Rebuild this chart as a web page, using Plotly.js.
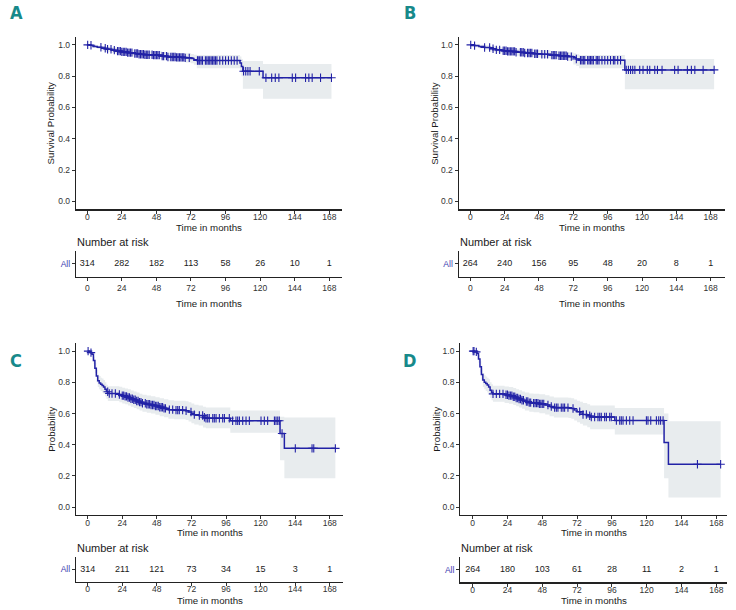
<!DOCTYPE html>
<html>
<head>
<meta charset="utf-8">
<script src="https://cdn.plot.ly/plotly-3.0.1.min.js"></script>
<style>html,body{margin:0;padding:0;background:#fff;}#chart{width:736px;height:610px;}</style>
</head>
<body>
<div id="chart"></div>
<script>
// ---------------- data ----------------
const xTicks = [0, 24, 48, 72, 96, 120, 144, 168];
const yTicks = [0, 0.2, 0.4, 0.6, 0.8, 1.0];
const yTickText = ["0.0", "0.2", "0.4", "0.6", "0.8", "1.0"];
const riskTimes = [0, 24, 48, 72, 96, 120, 144, 168];

const timeA = [0,2,4,7,10,13,17,20,24,28,32,36,40,46,52,56,62,68,72,74,76,106,107,108,122,169.5];
const survA = [1.0,0.997,0.99,0.985,0.978,0.972,0.966,0.96,0.955,0.95,0.945,0.94,0.937,0.934,0.928,0.922,0.92,0.917,0.912,0.905,0.90,0.884,0.862,0.831,0.79,0.79];
const lowA  = [1.0,0.99,0.98,0.973,0.964,0.956,0.948,0.941,0.935,0.929,0.923,0.917,0.913,0.909,0.902,0.895,0.892,0.888,0.882,0.873,0.85,0.83,0.80,0.72,0.655,0.655];
const upA   = [1.0,1.0,0.999,0.996,0.992,0.988,0.984,0.979,0.975,0.971,0.967,0.963,0.961,0.959,0.954,0.949,0.948,0.946,0.942,0.937,0.935,0.925,0.91,0.896,0.877,0.877];
const censA = [0.3,2.6,9.5,12.5,14.1,16.5,18.8,21,22,23,24,25,26,27,28,29,30,31,33,34,35,36,37,38,39,40,41,42,43,45,46,47,48,49,50,52,53,55,56,58,59,60,61,62,63,64,65,66,67,68,70.8,76.5,77,78,79,80,82,83,84,85,86,87,88,89,90,92,94,96,98,100,102,104,108.5,110,111.5,113,119.4,124,128,130.5,133,142.3,144.6,151.5,153.8,156.1,161.9,169.5];
const riskA = [314, 282, 182, 113, 58, 26, 10, 1];

const timeB = [0,3,6,10,14,18,22,26,32,38,44,50,56,62,68,72,74,76,108,170.4];
const survB = [1.0,0.995,0.99,0.983,0.975,0.968,0.962,0.958,0.953,0.948,0.943,0.94,0.934,0.93,0.925,0.918,0.91,0.902,0.84,0.84];
const lowB  = [1.0,0.985,0.978,0.968,0.958,0.949,0.942,0.937,0.931,0.925,0.919,0.915,0.908,0.903,0.897,0.875,0.865,0.85,0.717,0.717];
const upB   = [1.0,1.0,1.0,0.997,0.991,0.986,0.982,0.979,0.975,0.971,0.967,0.965,0.96,0.957,0.953,0.947,0.94,0.935,0.909,0.909];
const censB = [0.3,3.0,10.0,13.5,15.9,18.2,20.5,23,24,25,26,27,28,29,30,31,32,35,36,37,38,40,41,42,43,45,46,47,50,52,54,57,58,59,60,62,63,64,65,66,67,68,70.6,74.1,77,78,79,80,82,83,84,85,86,88,89,90,92,94,96,98,100,101,103,105,109,110.5,112,113.5,115,118.4,120.7,123.7,125.4,128.9,130.8,134,142.8,145.2,151.7,154.5,156.9,162.7,170.4];
const riskB = [264, 240, 156, 95, 48, 20, 8, 1];

const timeC = [0,1,2,3,4,5,6,7,8,9,10,11,12,13,14,22,24,26,28,30,32,34,36,38,41,44,47,50,53,56,60,68,70,72,74,77,80,82,99,133.5,136.5,171.9];
const survC = [1.0,0.997,0.99,0.98,0.94,0.89,0.84,0.81,0.795,0.787,0.779,0.77,0.755,0.74,0.728,0.722,0.715,0.71,0.703,0.695,0.688,0.68,0.673,0.666,0.66,0.655,0.648,0.64,0.633,0.625,0.622,0.618,0.61,0.6,0.593,0.587,0.576,0.57,0.554,0.472,0.377,0.377];
const lowC  = [1.0,0.99,0.98,0.965,0.915,0.86,0.80,0.77,0.755,0.745,0.735,0.725,0.71,0.695,0.68,0.672,0.665,0.66,0.652,0.643,0.636,0.627,0.62,0.612,0.605,0.6,0.592,0.583,0.576,0.567,0.563,0.558,0.549,0.538,0.53,0.523,0.51,0.505,0.477,0.30,0.186,0.186];
const upC   = [1.0,1.0,1.0,0.995,0.965,0.925,0.88,0.85,0.84,0.83,0.825,0.815,0.80,0.785,0.775,0.772,0.766,0.76,0.755,0.748,0.741,0.734,0.727,0.721,0.715,0.71,0.704,0.698,0.692,0.685,0.682,0.679,0.672,0.664,0.657,0.652,0.643,0.638,0.62,0.58,0.575,0.575];
const censC = [0.3,2.3,13.9,15.0,16.9,19.2,22.0,24,25,26,27,28,29,30,31,32,33,34,35,36,37,38,40,41,42,43,44,45,46,47,48,49,50,51,52,53,54,56.7,59,61.3,62.5,63.6,65.9,68.3,71.7,74.0,77.5,79.8,81,82.1,83.3,84.4,86.8,87.9,89.1,91.4,93.7,94.9,98.3,100.6,102.9,104.1,105.3,107.6,109.9,112.2,120.3,122.6,124.9,129.6,130.7,131.9,133.0,134.9,144.1,155.7,156.9,171.9];
const riskC = [314, 211, 121, 73, 34, 15, 3, 1];

const timeD = [0,1,3,4,5,6,7,8,9,10,11,12,13,14,22,25,28,30,32,34,36,39,42,46,50,53,56,66,68,70,72,74,76,79,81,98,132,135,171];
const survD = [1.0,0.995,0.985,0.95,0.9,0.85,0.815,0.8,0.792,0.783,0.77,0.75,0.735,0.726,0.72,0.715,0.708,0.7,0.693,0.685,0.677,0.67,0.667,0.662,0.655,0.645,0.638,0.635,0.632,0.622,0.612,0.603,0.594,0.586,0.578,0.555,0.415,0.275,0.275];
const lowD  = [1.0,0.985,0.97,0.925,0.865,0.81,0.77,0.755,0.745,0.735,0.72,0.70,0.685,0.675,0.668,0.662,0.655,0.646,0.638,0.63,0.62,0.612,0.608,0.602,0.594,0.583,0.575,0.571,0.566,0.555,0.544,0.534,0.523,0.512,0.5,0.465,0.186,0.062,0.062];
const upD   = [1.0,1.0,1.0,0.975,0.935,0.89,0.86,0.845,0.838,0.83,0.82,0.80,0.787,0.778,0.774,0.77,0.763,0.756,0.75,0.742,0.735,0.729,0.727,0.723,0.717,0.709,0.703,0.701,0.698,0.69,0.682,0.675,0.668,0.66,0.652,0.635,0.6,0.55,0.55];
const censD = [0.3,0.9,2.5,14.0,16.3,18.6,20.9,23,24,25,26,27,28,29,30,31,32,33,34,35,37,38,39,40,42,43,44,45,46,47,48,49,51.9,54.2,56.5,57.7,58.8,61.1,62.3,63.4,65.7,69.2,73.8,76.1,78.4,80.7,81.8,84.1,86.4,87.6,88.7,91,92.2,94.5,95.6,99.1,101.4,102.5,103.7,106,108.3,110.6,119.8,120.9,122.8,126.7,128.3,129.6,131.3,155,171];
const riskD = [264, 180, 103, 61, 28, 11, 2, 1];

// ---------------- layout geometry (pixels) ----------------
const W = 736, H = 610;
const px = x => x / W;
const py = y => 1 - y / H;
const BLUE = '#2222a6';
const BAND = '#e8ecee';
const FONT = 'Liberation Sans, Arial, Helvetica, sans-serif';
const LETTER_FONT = 'Liberation Sans Narrow, DejaVu Sans Condensed, sans-serif';

const panels = [
  {letter:'A', time:timeA, surv:survA, low:lowA, up:upA, cens:censA, risk:riskA, ylab:'Survival Probability',
   x0:76, x1:342, y0:37, y1:209.3, xr:[-7.8,176.8], ry0:251, ry1:276.7, lx:16, ly:13, ytx:50.3,
   mStand:-4, rStand:0, mtOff:17.7, rtOff:26.5},
  {letter:'B', time:timeB, surv:survB, low:lowB, up:upB, cens:censB, risk:riskB, ylab:'Survival Probability',
   x0:458.7, x1:725.3, y0:37, y1:209.3, xr:[-8.1,178.2], ry0:251, ry1:276.7, lx:410, ly:13, ytx:433.7,
   mStand:-4, rStand:0, mtOff:17.7, rtOff:26.5},
  {letter:'C', time:timeC, surv:survC, low:lowC, up:upC, cens:censC, risk:riskC, ylab:'Probability',
   x0:76, x1:343.3, y0:343.3, y1:515, xr:[-8.1,177.4], ry0:557, ry1:582, lx:15.5, ly:360, ytx:50.7,
   mStand:-3, rStand:-4, mtOff:17, rtOff:18.5},
  {letter:'D', time:timeD, surv:survD, low:lowD, up:upD, cens:censD, risk:riskD, ylab:'Probability',
   x0:460.3, x1:727.3, y0:343.3, y1:515, xr:[-8.55,175.6], ry0:557.3, ry1:582.3, lx:409.7, ly:360, ytx:435.7,
   mStand:-3, rStand:-4, mtOff:17, rtOff:18.2}
];

function stepAt(time, surv, t) {
  let v = surv[0];
  for (let k = 0; k < time.length; k++) if (time[k] <= t) v = surv[k];
  return v;
}

const traces = [];
const layout = {
  width: W, height: H,
  margin: {l:0, r:0, t:0, b:0},
  paper_bgcolor: '#fff', plot_bgcolor: 'rgba(0,0,0,0)',
  showlegend: false,
  font: {family: FONT, color: '#222'},
  annotations: []
};

function axName(n) { return n === 1 ? '' : String(n); }

panels.forEach((p, i) => {
  const mi = 2 * i + 1, ri = 2 * i + 2;
  const mx = 'x' + axName(mi), my = 'y' + axName(mi);
  const rx = 'x' + axName(ri), ry = 'y' + axName(ri);

  traces.push({x:p.time, y:p.low, xaxis:mx, yaxis:my, mode:'lines', line:{width:0, shape:'hv'}, hoverinfo:'skip'});
  traces.push({x:p.time, y:p.up, xaxis:mx, yaxis:my, mode:'lines', fill:'tonexty', fillcolor:BAND, line:{width:0, shape:'hv'}, hoverinfo:'skip'});
  traces.push({x:p.time, y:p.surv, xaxis:mx, yaxis:my, mode:'lines', line:{color:BLUE, width:1.5, shape:'hv'}});
  traces.push({x:p.cens, y:p.cens.map(t => stepAt(p.time, p.surv, t)), xaxis:mx, yaxis:my, mode:'markers',
    marker:{symbol:'cross-thin', size:6, color:BLUE, line:{width:1.1, color:BLUE}}});
  traces.push({x:riskTimes, y:riskTimes.map(() => 0), xaxis:rx, yaxis:ry, mode:'text',
    text:p.risk.map(String), textfont:{size:9, color:'#1a1a1a', family:FONT}, cliponaxis:false});

  const common = {showgrid:false, zeroline:false, showline:true, linecolor:'#222', linewidth:1.2,
    ticks:'outside', ticklen:3, tickwidth:1, tickcolor:'#333', tickfont:{size:8.5, color:'#333', family:FONT}, fixedrange:true};

  layout['xaxis' + axName(mi)] = Object.assign({}, common, {domain:[px(p.x0), px(p.x1)], range:p.xr, anchor:my,
    tickmode:'array', tickvals:xTicks, ticklabelstandoff:p.mStand});
  layout['yaxis' + axName(mi)] = Object.assign({}, common, {domain:[py(p.y1), py(p.y0)], range:[-0.05, 1.05], anchor:mx,
    tickmode:'array', tickvals:yTicks, ticktext:yTickText});
  layout['xaxis' + axName(ri)] = Object.assign({}, common, {domain:[px(p.x0), px(p.x1)], range:p.xr, anchor:ry,
    tickmode:'array', tickvals:xTicks, ticklabelstandoff:p.rStand});
  layout['yaxis' + axName(ri)] = Object.assign({}, common, {domain:[py(p.ry1), py(p.ry0)], range:[-0.5, 0.5], anchor:rx,
    tickmode:'array', tickvals:[0], ticktext:['All'], tickfont:{size:8.5, color:'#3a3ab0', family:FONT}});

  const cx = (p.x0 + p.x1) / 2;
  const ann = layout.annotations;
  ann.push({xref:'paper', yref:'paper', x:px(p.lx), y:py(p.ly), text:p.letter, showarrow:false,
    font:{family:LETTER_FONT, size:18, color:'#17898a', weight:'bold'}, xanchor:'center', yanchor:'middle'});
  ann.push({xref:'paper', yref:'paper', x:px(p.ytx), y:py((p.y0 + p.y1) / 2), text:p.ylab, textangle:-90, showarrow:false,
    font:{size:9.7, color:'#1a1a1a', family:FONT}, xanchor:'center', yanchor:'middle'});
  ann.push({xref:'paper', yref:'paper', x:px(cx), y:py(p.y1 + p.mtOff), text:'Time in months', showarrow:false,
    font:{size:9.7, color:'#1a1a1a', family:FONT}, xanchor:'center', yanchor:'middle'});
  ann.push({xref:'paper', yref:'paper', x:px(p.x0 - 1), y:py(p.ry0 - 9), text:'Number at risk', showarrow:false,
    font:{size:11, color:'#1a1a1a', family:FONT}, xanchor:'left', yanchor:'middle'});
  ann.push({xref:'paper', yref:'paper', x:px(cx), y:py(p.ry1 + p.rtOff), text:'Time in months', showarrow:false,
    font:{size:9.7, color:'#1a1a1a', family:FONT}, xanchor:'center', yanchor:'middle'});
});

Plotly.newPlot('chart', traces, layout, {displayModeBar:false, staticPlot:true});
</script>
</body>
</html>
